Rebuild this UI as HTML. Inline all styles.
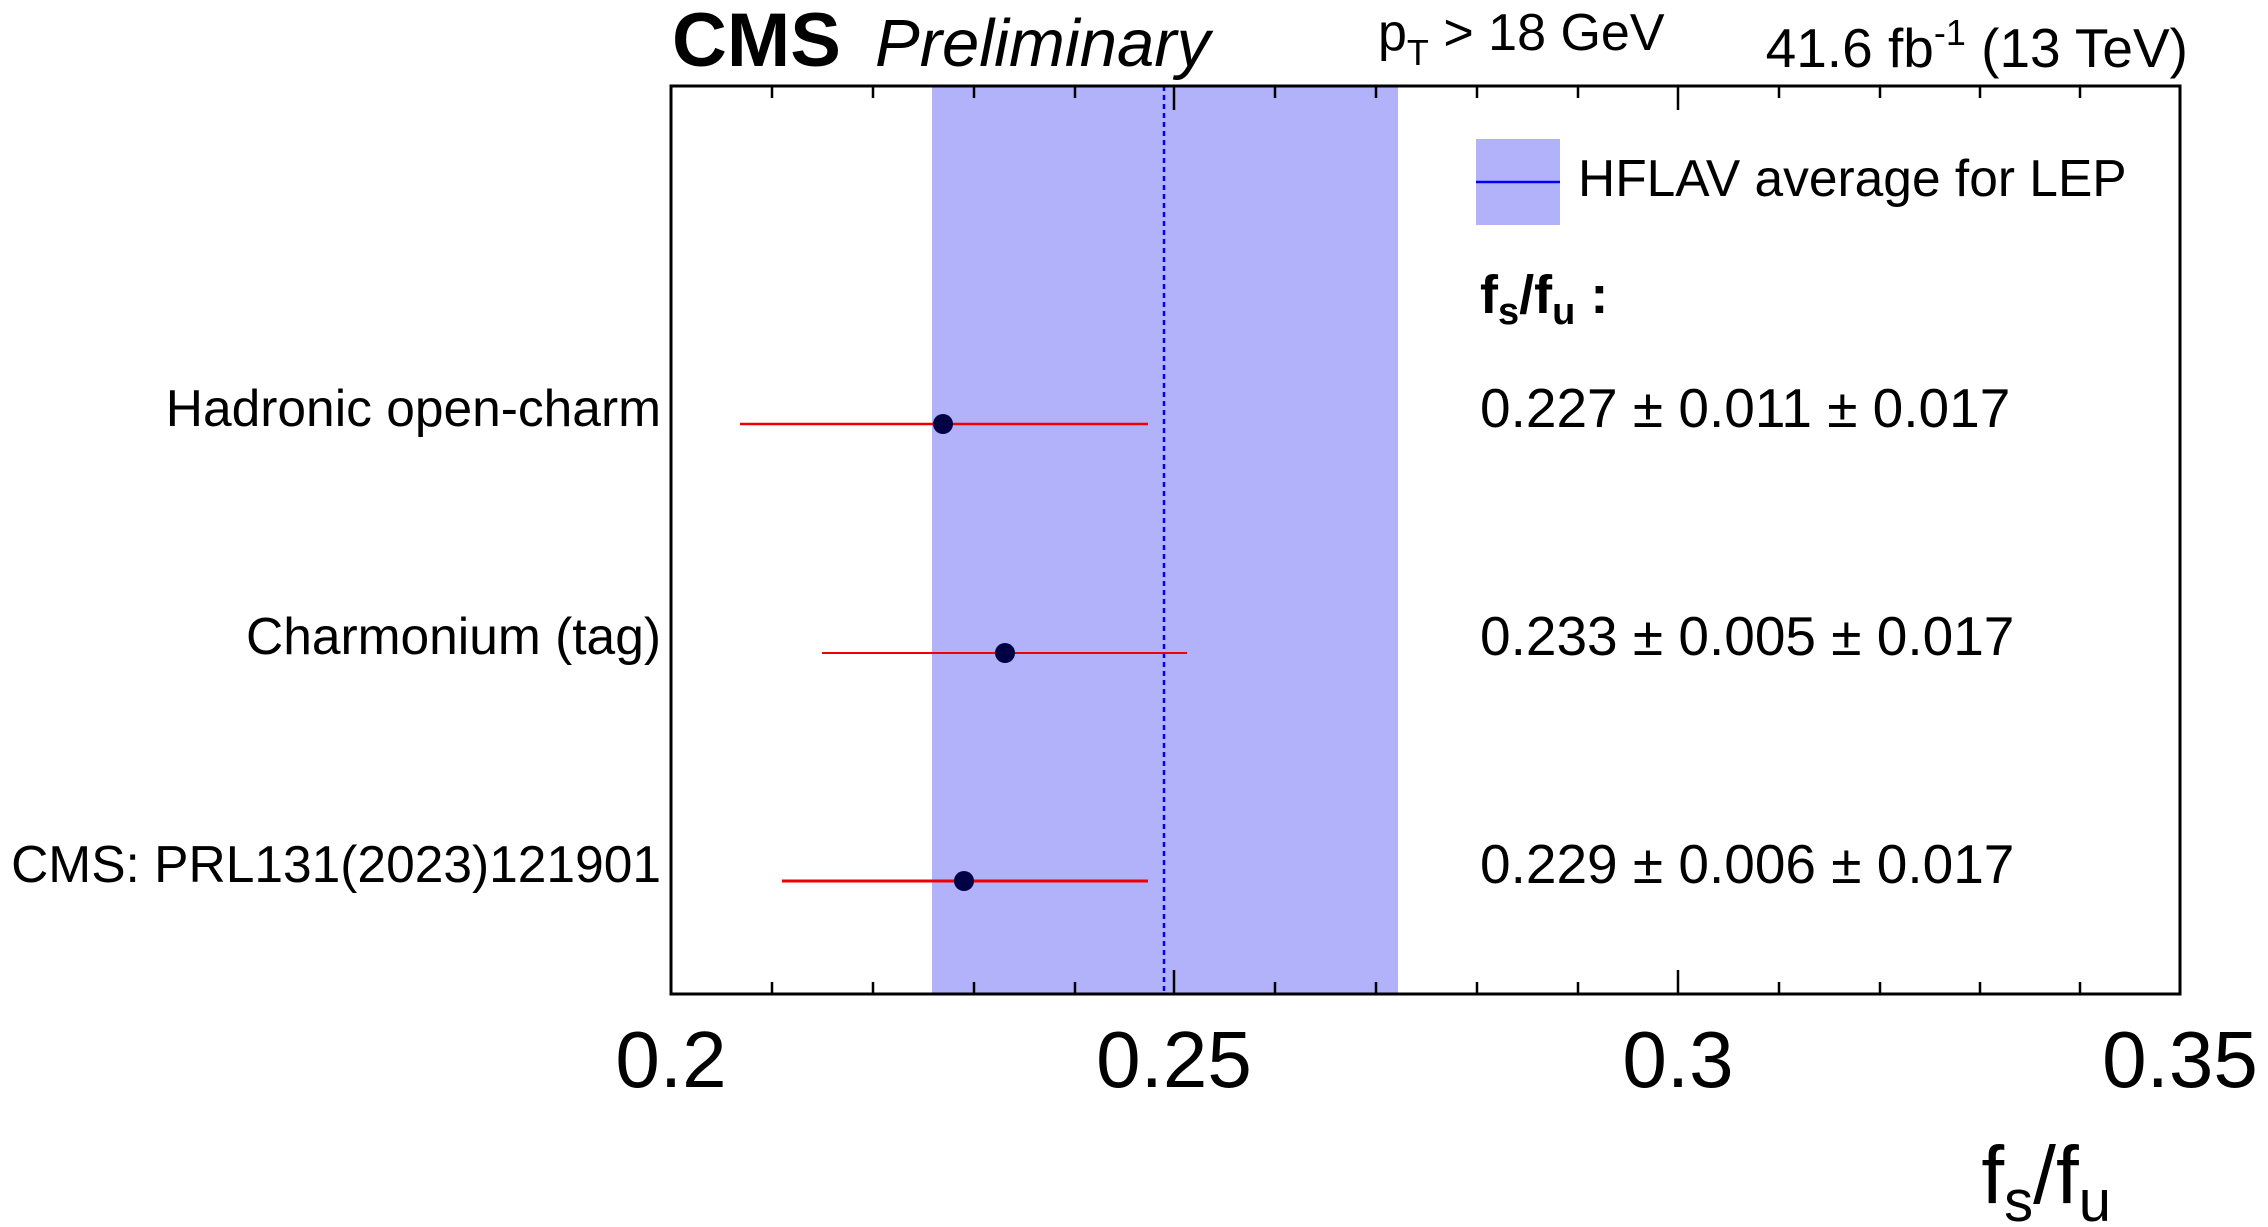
<!DOCTYPE html>
<html><head><meta charset="utf-8"><style>
html,body{margin:0;padding:0;background:#fff;}
svg{display:block;}
text{font-family:"Liberation Sans",Arial,sans-serif;fill:#000;}
</style></head><body>
<svg width="2268" height="1227" viewBox="0 0 2268 1227" xmlns="http://www.w3.org/2000/svg">
<rect x="932" y="86" width="466" height="908" fill="#b2b2fa"/>
<line x1="1164" y1="86" x2="1164" y2="994" stroke="#0000ee" stroke-width="2.5" stroke-dasharray="5,4"/>
<line x1="740" y1="424" x2="1148" y2="424" stroke="#ee0000" stroke-width="2.5"/>
<line x1="822" y1="653" x2="1187" y2="653" stroke="#ee0000" stroke-width="2"/>
<line x1="782" y1="881" x2="1148" y2="881" stroke="#ee0000" stroke-width="3"/>
<circle cx="943" cy="424" r="10" fill="#000044"/>
<circle cx="1005" cy="653" r="10" fill="#000044"/>
<circle cx="964" cy="881" r="10" fill="#000044"/>
<rect x="671" y="86" width="1509" height="908" fill="none" stroke="#000" stroke-width="3"/>
<g stroke="#000" stroke-width="2.5">
<line x1="772" y1="994" x2="772" y2="982"/><line x1="873" y1="994" x2="873" y2="982"/><line x1="974" y1="994" x2="974" y2="982"/><line x1="1075" y1="994" x2="1075" y2="982"/>
<line x1="1174" y1="994" x2="1174" y2="970"/>
<line x1="1275" y1="994" x2="1275" y2="982"/><line x1="1376" y1="994" x2="1376" y2="982"/><line x1="1477" y1="994" x2="1477" y2="982"/><line x1="1578" y1="994" x2="1578" y2="982"/>
<line x1="1678" y1="994" x2="1678" y2="970"/>
<line x1="1779" y1="994" x2="1779" y2="982"/><line x1="1880" y1="994" x2="1880" y2="982"/><line x1="1980" y1="994" x2="1980" y2="982"/><line x1="2080" y1="994" x2="2080" y2="982"/>
<line x1="772" y1="86" x2="772" y2="98"/><line x1="873" y1="86" x2="873" y2="98"/><line x1="974" y1="86" x2="974" y2="98"/><line x1="1075" y1="86" x2="1075" y2="98"/>
<line x1="1174" y1="86" x2="1174" y2="110"/>
<line x1="1275" y1="86" x2="1275" y2="98"/><line x1="1376" y1="86" x2="1376" y2="98"/><line x1="1477" y1="86" x2="1477" y2="98"/><line x1="1578" y1="86" x2="1578" y2="98"/>
<line x1="1678" y1="86" x2="1678" y2="110"/>
<line x1="1779" y1="86" x2="1779" y2="98"/><line x1="1880" y1="86" x2="1880" y2="98"/><line x1="1980" y1="86" x2="1980" y2="98"/><line x1="2080" y1="86" x2="2080" y2="98"/>
</g>
<g font-size="80" text-anchor="middle">
<text x="671" y="1087">0.2</text>
<text x="1174" y="1087">0.25</text>
<text x="1678" y="1087">0.3</text>
<text x="2180" y="1087">0.35</text>
</g>
<text x="2111" y="1203" font-size="82" text-anchor="end">f<tspan font-size="58" dy="18">s</tspan><tspan dy="-18">/f</tspan><tspan font-size="58" dy="18">u</tspan></text>
<text x="672" y="66" font-size="76" font-weight="bold">CMS</text>
<text x="875" y="66" font-size="67" font-style="italic">Preliminary</text>
<text x="1378" y="50" font-size="52">p<tspan font-size="36" dy="15">T</tspan><tspan dy="-15"> &gt; 18 GeV</tspan></text>
<text x="2188" y="67" font-size="55" text-anchor="end">41.6 fb<tspan font-size="36" dy="-22">-1</tspan><tspan dy="22"> (13 TeV)</tspan></text>
<rect x="1476" y="139" width="84" height="86" fill="#b2b2fa"/>
<line x1="1476" y1="182" x2="1560" y2="182" stroke="#0000ee" stroke-width="2.5"/>
<text x="1578" y="196" font-size="51.5">HFLAV average for LEP</text>
<text x="1480" y="313" font-size="54" font-weight="bold">f<tspan font-size="38" dy="11">s</tspan><tspan dy="-11">/f</tspan><tspan font-size="38" dy="11">u</tspan><tspan dy="-11"> :</tspan></text>
<g font-size="55">
<text x="1480" y="427">0.227 ± 0.011 ± 0.017</text>
<text x="1480" y="655">0.233 ± 0.005 ± 0.017</text>
<text x="1480" y="883">0.229 ± 0.006 ± 0.017</text>
</g>
<g font-size="51.5" text-anchor="end">
<text x="661" y="426">Hadronic open-charm</text>
<text x="661" y="654">Charmonium (tag)</text>
<text x="661" y="882">CMS: PRL131(2023)121901</text>
</g>
</svg>
</body></html>
